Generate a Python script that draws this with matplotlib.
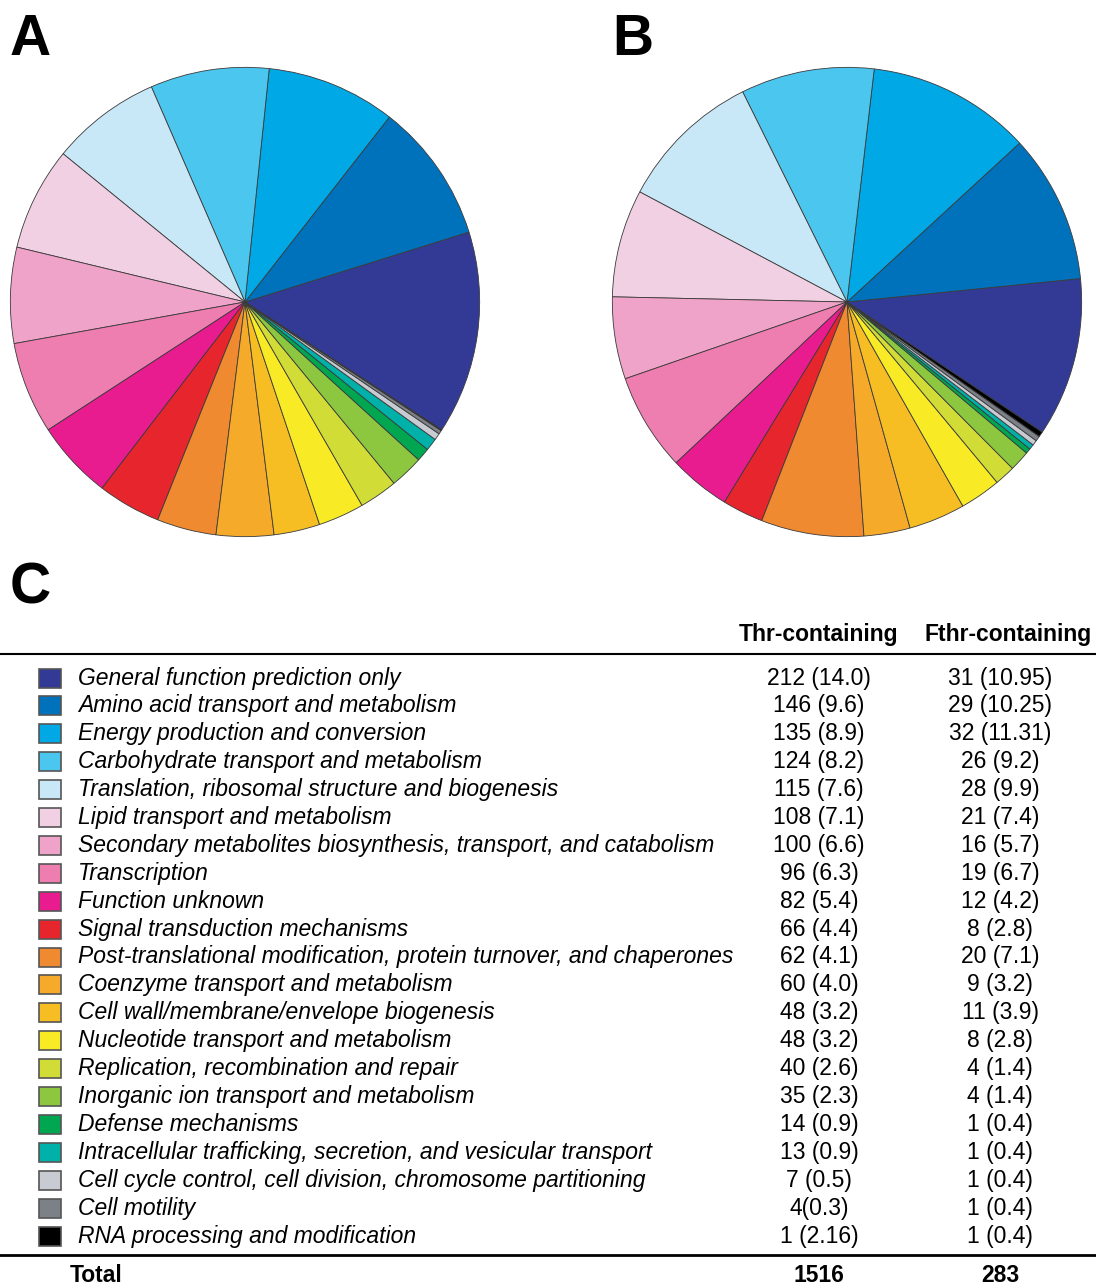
import matplotlib
matplotlib.use("Agg")
import matplotlib.pyplot as plt
from matplotlib.patches import Rectangle
from matplotlib.lines import Line2D

plt.rcParams['font.family'] = ['Liberation Sans', 'DejaVu Sans']

# COG categories (legend / table order)
categories = [
    "General function prediction only",
    "Amino acid transport and metabolism",
    "Energy production and conversion",
    "Carbohydrate transport and metabolism",
    "Translation, ribosomal structure and biogenesis",
    "Lipid transport and metabolism",
    "Secondary metabolites biosynthesis, transport, and catabolism",
    "Transcription",
    "Function unknown",
    "Signal transduction mechanisms",
    "Post-translational modification, protein turnover, and chaperones",
    "Coenzyme transport and metabolism",
    "Cell wall/membrane/envelope biogenesis",
    "Nucleotide transport and metabolism",
    "Replication, recombination and repair",
    "Inorganic ion transport and metabolism",
    "Defense mechanisms",
    "Intracellular trafficking, secretion, and vesicular transport",
    "Cell cycle control, cell division, chromosome partitioning",
    "Cell motility",
    "RNA processing and modification",
]
thr_counts = [212, 146, 135, 124, 115, 108, 100, 96, 82, 66, 62, 60, 48, 48, 40, 35, 14, 13, 7, 4, 1]
thr_labels = ["212 (14.0)", "146 (9.6)", "135 (8.9)", "124 (8.2)", "115 (7.6)", "108 (7.1)",
              "100 (6.6)", "96 (6.3)", "82 (5.4)", "66 (4.4)", "62 (4.1)", "60 (4.0)",
              "48 (3.2)", "48 (3.2)", "40 (2.6)", "35 (2.3)", "14 (0.9)", "13 (0.9)",
              "7 (0.5)", "4(0.3)", "1 (2.16)"]
fthr_counts = [31, 29, 32, 26, 28, 21, 16, 19, 12, 8, 20, 9, 11, 8, 4, 4, 1, 1, 1, 1, 1]
fthr_labels = ["31 (10.95)", "29 (10.25)", "32 (11.31)", "26 (9.2)", "28 (9.9)", "21 (7.4)",
               "16 (5.7)", "19 (6.7)", "12 (4.2)", "8 (2.8)", "20 (7.1)", "9 (3.2)",
               "11 (3.9)", "8 (2.8)", "4 (1.4)", "4 (1.4)", "1 (0.4)", "1 (0.4)",
               "1 (0.4)", "1 (0.4)", "1 (0.4)"]
colors = ["#333a96", "#0072bc", "#00a8e6", "#4bc6ee", "#c9e8f7", "#f2d0e4", "#f0a3c8",
          "#ee7db0", "#e81c8e", "#e6262c", "#f08a30", "#f6aa2a", "#f6be22", "#f8ea24",
          "#d1dc36", "#8dc63f", "#00a650", "#00b1a9", "#c8cbd2", "#7c8187", "#000000"]
totals = ["1516", "283"]

W, H = 1096, 1288
fig = plt.figure(figsize=(W / 100, H / 100), dpi=100)
fs = 16.5

def fy(y):
    return 1 - y / H

def pie_at(cx, cy, r, vals, start):
    ax = fig.add_axes([(cx - r) / W, (H - cy - r) / H, 2 * r / W, 2 * r / H])
    ax.pie(vals, colors=colors, startangle=start, counterclock=True,
           wedgeprops=dict(edgecolor="#3a3a3a", linewidth=0.6))
    ax.set_xlim(-1.01, 1.01)
    ax.set_ylim(-1.01, 1.01)
    ax.set_aspect("equal")
    ax.axis("off")

pie_at(245, 302, 237, thr_counts, -33)
pie_at(847, 302, 237, fthr_counts, -33.7)

# panel letters
fig.text(10 / W, fy(40), "A", fontsize=41, fontweight="bold", va="center", ha="left")
fig.text(612 / W, fy(40), "B", fontsize=41, fontweight="bold", va="center", ha="left")
fig.text(10 / W, fy(588), "C", fontsize=41, fontweight="bold", va="center", ha="left")

# table
col1, col2 = 819, 1000
fig.text(col1 / W, fy(635), "Thr-containing", fontsize=fs, fontweight="bold", ha="center", va="center")
fig.text(1008 / W, fy(635), "Fthr-containing", fontsize=fs, fontweight="bold", ha="center", va="center")
fig.add_artist(Line2D([0, 1], [fy(654), fy(654)], color="black", linewidth=1.5))

y0, dy = 678, 27.9
for i, name in enumerate(categories):
    y = y0 + i * dy
    fig.add_artist(Rectangle((39 / W, fy(y + 9.5)), 22 / W, 19 / H, facecolor=colors[i],
                             edgecolor="#555555", linewidth=1.2))
    fig.text(78 / W, fy(y), name, fontsize=fs, style="italic", ha="left", va="center")
    fig.text(col1 / W, fy(y), thr_labels[i], fontsize=fs, ha="center", va="center")
    fig.text(col2 / W, fy(y), fthr_labels[i], fontsize=fs, ha="center", va="center")

fig.add_artist(Line2D([0, 1], [fy(1255), fy(1255)], color="black", linewidth=2))
fig.text(70 / W, fy(1276), "Total", fontsize=fs, fontweight="bold", ha="left", va="center")
fig.text(col1 / W, fy(1276), totals[0], fontsize=fs, fontweight="bold", ha="center", va="center")
fig.text(col2 / W, fy(1276), totals[1], fontsize=fs, fontweight="bold", ha="center", va="center")

fig.savefig("out.png", dpi=100)
